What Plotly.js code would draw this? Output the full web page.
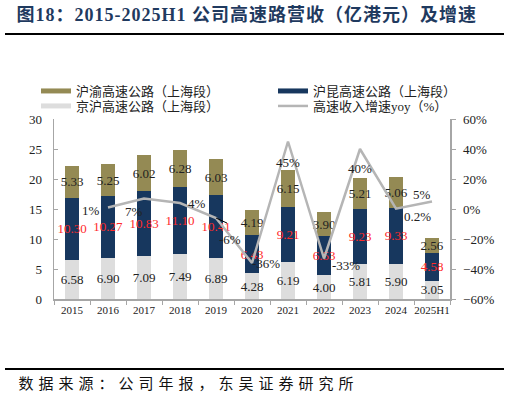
<!DOCTYPE html>
<html>
<head>
<meta charset="utf-8">
<script src="https://cdn.plot.ly/plotly-3.0.1.min.js"></script>
<style>
  html, body { margin: 0; padding: 0; background: #fff; }
  #chart { width: 509px; height: 402px; }
</style>
</head>
<body>
<div id="chart"></div>
<script>
// data
const years = ['2015', '2016', '2017', '2018', '2019', '2020', '2021', '2022', '2023', '2024', '2025H1'];
const jinghu = [6.58, 6.90, 7.09, 7.49, 6.89, 4.28, 6.19, 4.00, 5.81, 5.90, 3.05];   // 京沪高速公路（上海段）
const hukun  = [10.30, 10.27, 10.83, 11.10, 10.41, 6.43, 9.21, 6.53, 9.23, 9.33, 4.58]; // 沪昆高速公路（上海段）
const huyu   = [5.33, 5.25, 6.02, 6.28, 6.03, 4.19, 6.15, 3.90, 5.21, 5.06, 2.56];     // 沪渝高速公路（上海段）
const yoy    = [null, 1, 7, 4, -6, -36, 45, -33, 40, 0.2, 5];                         // 高速收入增速yoy（%）

const names = ['沪渝高速公路（上海段）', '沪昆高速公路（上海段）', '京沪高速公路（上海段）', '高速收入增速yoy（%）'];

// pixel offsets of the yoy labels from their points (dx right, dy down)
const yoyLabelShift = [null, [-17, 3], [-10, 13], [17, 0], [14, 21], [14, 0], [0, 21], [22, 7], [0, 19], [21, 8], [-10, -7]];

const FONT = 'Liberation Serif, "Noto Sans CJK SC", serif';
const C_OLIVE = '#948a54', C_NAVY = '#17375e', C_LIGHT = '#dddddd', C_LINE = '#b5b5b5';

// plot area in pixels, used to place the page furniture
const M = { l: 54, r: 59, t: 119, b: 103 }, W = 509, H = 402;
const pw = W - M.l - M.r, ph = H - M.t - M.b;
const px = x => (x - M.l) / pw;
const py = y => (H - M.b - y) / ph;

const fmt = v => v.toFixed(2);

function barTrace(vals, color, textColor) {
  return {
    type: 'bar', x: years, y: vals,
    marker: { color: color },
    text: vals.map(fmt), textposition: 'inside', insidetextanchor: 'middle',
    textangle: 0, constraintext: 'none',
    textfont: { family: FONT, size: 13, color: textColor },
    showlegend: false, hoverinfo: 'x+y'
  };
}

const traces = [
  barTrace(jinghu, C_LIGHT, '#222'),
  barTrace(hukun, C_NAVY, '#ff2a2a'),
  barTrace(huyu, C_OLIVE, '#222'),
  {
    type: 'scatter', mode: 'lines', x: years, y: yoy, yaxis: 'y2',
    line: { color: C_LINE, width: 2.5 }, showlegend: false, connectgaps: false
  }
];

// legend-only swatches (wide strips as in the reference); they draw nothing in the plot
const legendItems = [
  { name: names[0], color: C_OLIVE, width: 5, legend: 'legend' },
  { name: names[1], color: C_NAVY, width: 5, legend: 'legend2' },
  { name: names[2], color: C_LIGHT, width: 5, legend: 'legend3' },
  { name: names[3], color: C_LINE, width: 2.5, legend: 'legend4' }
];
legendItems.forEach(it => traces.push({
  type: 'scatter', mode: 'lines', x: [years[0]], y: [null], name: it.name,
  line: { color: it.color, width: it.width }, legend: it.legend, showlegend: true
}));

function legendAt(xPix, yPix) {
  return {
    x: px(xPix), y: py(yPix), xanchor: 'left', yanchor: 'middle',
    bgcolor: 'rgba(0,0,0,0)', itemwidth: 30,
    font: { family: FONT, size: 13, color: '#222' }
  };
}

const annotations = [];
yoy.forEach((v, i) => {
  if (v === null) return;
  const s = yoyLabelShift[i];
  annotations.push({
    xref: 'x', yref: 'y2', x: i, y: v, text: v + '%', showarrow: false,
    xshift: s[0], yshift: -s[1], font: { family: FONT, size: 13, color: '#222' }
  });
});
// short black leader near the 2019 point
annotations.push({
  xref: 'x', yref: 'y2', x: 4, y: yoy[4], text: ' ', showarrow: true,
  arrowhead: 0, arrowwidth: 1, arrowcolor: '#000', ax: 13, ay: 6, standoff: 0,
  font: { size: 2 }
});

// title and source; letter spacing is added by css, so the text is nudged right to compensate
const titleText = '图18：2015-2025H1 公司高速路营收（亿港元）及增速';
const sourceText = '数据来源：公司年报，东吴证券研究所';
const TITLE_LS = 1, SOURCE_LS = 5;
const titleIdx = annotations.length;
annotations.push({
  xref: 'paper', yref: 'paper', x: px(18), y: py(14), xanchor: 'left', yanchor: 'middle',
  xshift: 12,
  text: '<b>' + titleText + '</b>', showarrow: false,
  font: { family: FONT, size: 18, color: '#1f3a5f' }
});
const sourceIdx = annotations.length;
annotations.push({
  xref: 'paper', yref: 'paper', x: px(16), y: py(384), xanchor: 'left', yanchor: 'middle',
  xshift: SOURCE_LS * sourceText.length / 2,
  text: sourceText, showarrow: false,
  font: { family: FONT, size: 15, color: '#111' }
});

const css = document.createElement('style');
css.textContent =
  `.annotation[data-index="${titleIdx}"] text { letter-spacing: ${TITLE_LS}px; }\n` +
  `.annotation[data-index="${sourceIdx}"] text { letter-spacing: ${SOURCE_LS}px; }`;
document.head.appendChild(css);

const axisGray = '#a6a6a6';
const layout = {
  width: W, height: H, margin: M,
  paper_bgcolor: '#fff', plot_bgcolor: '#fff',
  barmode: 'stack', bargap: 0.61,
  font: { family: FONT, size: 13, color: '#222' },
  xaxis: {
    type: 'category', range: [-0.5, years.length - 0.5], autorange: false,
    showline: true, linecolor: axisGray, linewidth: 1.5, tickangle: 0,
    ticks: 'outside', tickson: 'boundaries', ticklen: 4, tickcolor: axisGray,
    showgrid: false, zeroline: false, tickfont: { family: FONT, size: 11, color: '#222' }
  },
  yaxis: {
    range: [0, 30], dtick: 5, showline: true, linecolor: axisGray, linewidth: 1.5,
    ticks: 'inside', ticklen: 4, tickcolor: axisGray, ticklabelstandoff: 8,
    showgrid: false, zeroline: false, tickfont: { family: FONT, size: 13, color: '#222' }
  },
  yaxis2: {
    overlaying: 'y', side: 'right', range: [-60, 60], dtick: 20, ticksuffix: '%',
    showline: true, linecolor: axisGray, linewidth: 1.5,
    ticks: 'outside', ticklen: 4, tickcolor: axisGray, ticklabelstandoff: 5,
    showgrid: false, zeroline: false, tickfont: { family: FONT, size: 13, color: '#222' }
  },
  legend: legendAt(36, 91),
  legend2: legendAt(273, 91),
  legend3: legendAt(36, 106),
  legend4: legendAt(273, 106),
  annotations: annotations,
  shapes: [
    { type: 'line', xref: 'paper', yref: 'paper', x0: px(5), x1: px(504), y0: py(34), y1: py(34),
      line: { color: '#000', width: 2 } },
    { type: 'line', xref: 'paper', yref: 'paper', x0: px(5), x1: px(504), y0: py(369), y1: py(369),
      line: { color: '#000', width: 2 } }
  ]
};

Plotly.newPlot('chart', traces, layout, { displayModeBar: false, staticPlot: true });
</script>
</body>
</html>
